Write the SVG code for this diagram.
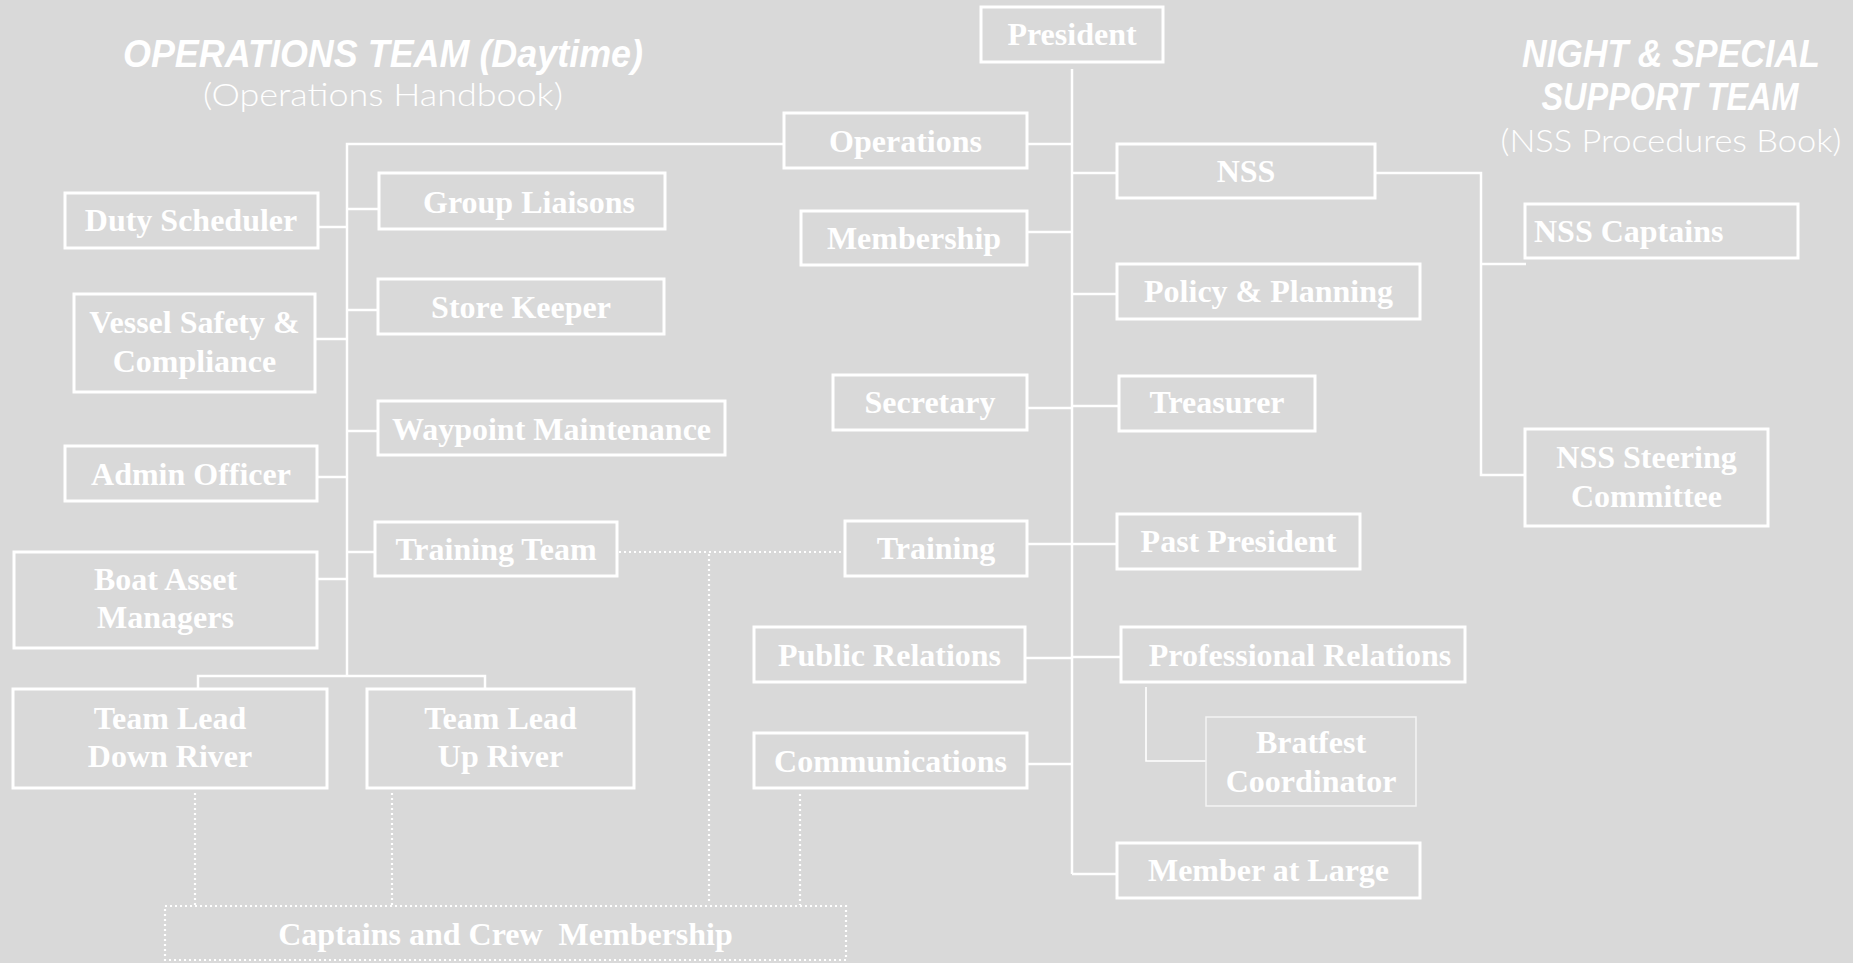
<svg xmlns="http://www.w3.org/2000/svg" width="1853" height="963" viewBox="0 0 1853 963">
<style>
.bg{fill:#d9d9d9}
.box{fill:none;stroke:#ffffff;stroke-width:3}
.thin{fill:none;stroke:#f4f4f4;stroke-width:1.5}
.lbl{font-family:"Liberation Serif","Times New Roman",serif;font-weight:bold;font-size:32px;fill:#ffffff;text-anchor:middle}
.ln{fill:none;stroke:#ffffff;stroke-width:2.5}
.ln1{fill:none;stroke:#ffffff;stroke-width:1.6}
.dot{fill:none;stroke:#ffffff;stroke-width:2.2;stroke-dasharray:2 3}
.ttl{font-family:"Liberation Sans",Arial,sans-serif;font-style:italic;font-weight:bold;font-size:38px;fill:#ffffff;text-anchor:middle}
.sub{font-family:"Lato","Open Sans",sans-serif;font-weight:300;font-size:32px;fill:#ffffff;text-anchor:middle}
</style>
<rect class="bg" x="0" y="0" width="1853" height="963"/>

<g id="titles">
<text class="ttl" x="383" y="67" textLength="520" lengthAdjust="spacingAndGlyphs">OPERATIONS TEAM (Daytime)</text>
<text class="sub" x="383" y="106" textLength="360" lengthAdjust="spacingAndGlyphs">(Operations Handbook)</text>
<text class="ttl" x="1671" y="67" textLength="298" lengthAdjust="spacingAndGlyphs">NIGHT &amp; SPECIAL</text>
<text class="ttl" x="1670" y="110" textLength="257" lengthAdjust="spacingAndGlyphs">SUPPORT TEAM</text>
<text class="sub" x="1671" y="152" textLength="341" lengthAdjust="spacingAndGlyphs">(NSS Procedures Book)</text>
</g>

<g id="connectors">
<line class="ln" x1="1072" y1="69" x2="1072" y2="874"/>
<polyline class="ln" points="784,144 347,144 347,676"/>
<polyline class="ln" points="198,689 198,676 485,676 485,689"/>
<line class="ln" x1="318" y1="227" x2="347" y2="227"/>
<line class="ln" x1="315" y1="339" x2="347" y2="339"/>
<line class="ln" x1="317" y1="477" x2="347" y2="477"/>
<line class="ln" x1="317" y1="579" x2="347" y2="579"/>
<line class="ln" x1="347" y1="209" x2="379" y2="209"/>
<line class="ln" x1="347" y1="310" x2="378" y2="310"/>
<line class="ln" x1="347" y1="431" x2="378" y2="431"/>
<line class="ln" x1="347" y1="552" x2="375" y2="552"/>
<line class="ln" x1="1027" y1="144" x2="1072" y2="144"/>
<line class="ln" x1="1027" y1="232" x2="1072" y2="232"/>
<line class="ln" x1="1027" y1="408" x2="1072" y2="408"/>
<line class="ln" x1="1027" y1="544" x2="1072" y2="544"/>
<line class="ln" x1="1025" y1="658" x2="1072" y2="658"/>
<line class="ln" x1="1027" y1="764" x2="1072" y2="764"/>
<line class="ln" x1="1072" y1="173" x2="1117" y2="173"/>
<line class="ln" x1="1072" y1="294" x2="1117" y2="294"/>
<line class="ln" x1="1072" y1="406" x2="1119" y2="406"/>
<line class="ln" x1="1072" y1="544" x2="1117" y2="544"/>
<line class="ln" x1="1072" y1="657" x2="1121" y2="657"/>
<line class="ln" x1="1072" y1="874" x2="1117" y2="874"/>
<polyline class="ln" points="1375,173 1481,173 1481,475 1525,475"/>
<line class="ln" x1="1481" y1="264" x2="1526" y2="264"/>
<polyline class="ln1" points="1146,687 1146,761 1206,761"/>
<line class="dot" x1="619" y1="552" x2="845" y2="552"/>
<line class="dot" x1="709" y1="554" x2="709" y2="904"/>
<line class="dot" x1="195" y1="793" x2="195" y2="905"/>
<line class="dot" x1="392" y1="793" x2="392" y2="905"/>
<line class="dot" x1="800" y1="794" x2="800" y2="905"/>
</g>

<g id="president"><rect class="box" x="981" y="7" width="182" height="55"/><text class="lbl" x="1072" y="45">President</text></g>
<g id="operations"><rect class="box" x="784" y="113" width="243" height="55"/><text class="lbl" x="905.5" y="152">Operations</text></g>
<g id="membership"><rect class="box" x="801" y="211" width="226" height="54"/><text class="lbl" x="914" y="249">Membership</text></g>
<g id="secretary"><rect class="box" x="833" y="375" width="194" height="55"/><text class="lbl" x="930" y="413">Secretary</text></g>
<g id="training"><rect class="box" x="845" y="521" width="182" height="55"/><text class="lbl" x="936" y="559">Training</text></g>
<g id="public-relations"><rect class="box" x="754" y="627" width="271" height="55"/><text class="lbl" x="889.5" y="666">Public Relations</text></g>
<g id="communications"><rect class="box" x="754" y="733" width="273" height="55"/><text class="lbl" x="890.5" y="772">Communications</text></g>

<g id="nss"><rect class="box" x="1117" y="144" width="258" height="54"/><text class="lbl" x="1246" y="182">NSS</text></g>
<g id="policy-planning"><rect class="box" x="1117" y="264" width="303" height="55"/><text class="lbl" x="1268.5" y="302">Policy &amp; Planning</text></g>
<g id="treasurer"><rect class="box" x="1119" y="376" width="196" height="55"/><text class="lbl" x="1217" y="413">Treasurer</text></g>
<g id="past-president"><rect class="box" x="1117" y="514" width="243" height="55"/><text class="lbl" x="1238.5" y="552">Past President</text></g>
<g id="professional-relations"><rect class="box" x="1121" y="627" width="344" height="55"/><text class="lbl" x="1300" y="666">Professional Relations</text></g>
<g id="bratfest"><rect class="thin" x="1206" y="717" width="210" height="89"/><text class="lbl" x="1311" y="753">Bratfest</text><text class="lbl" x="1311" y="792">Coordinator</text></g>
<g id="member-at-large"><rect class="box" x="1117" y="843" width="303" height="55"/><text class="lbl" x="1268.5" y="881">Member at Large</text></g>

<g id="nss-captains"><rect class="box" x="1525" y="204" width="273" height="54"/><text class="lbl" x="1534" y="242" style="text-anchor:start">NSS Captains</text></g>
<g id="nss-steering"><rect class="box" x="1525" y="429" width="243" height="97"/><text class="lbl" x="1646.5" y="468">NSS Steering</text><text class="lbl" x="1646.5" y="507">Committee</text></g>

<g id="duty-scheduler"><rect class="box" x="65" y="193" width="253" height="55"/><text class="lbl" x="191" y="231">Duty Scheduler</text></g>
<g id="vessel-safety"><rect class="box" x="74" y="294" width="241" height="98"/><text class="lbl" x="194.5" y="333">Vessel Safety &amp;</text><text class="lbl" x="194.5" y="372">Compliance</text></g>
<g id="admin-officer"><rect class="box" x="65" y="446" width="252" height="55"/><text class="lbl" x="191" y="485">Admin Officer</text></g>
<g id="boat-asset-managers"><rect class="box" x="14" y="552" width="303" height="96"/><text class="lbl" x="165.5" y="590">Boat Asset</text><text class="lbl" x="165.5" y="628">Managers</text></g>
<g id="group-liaisons"><rect class="box" x="379" y="173" width="286" height="56"/><text class="lbl" x="529" y="213">Group Liaisons</text></g>
<g id="store-keeper"><rect class="box" x="378" y="279" width="286" height="55"/><text class="lbl" x="521" y="318">Store Keeper</text></g>
<g id="waypoint-maintenance"><rect class="box" x="378" y="401" width="347" height="54"/><text class="lbl" x="551.5" y="440">Waypoint Maintenance</text></g>
<g id="training-team"><rect class="box" x="375" y="522" width="242" height="54"/><text class="lbl" x="496" y="560">Training Team</text></g>
<g id="team-lead-down"><rect class="box" x="13" y="689" width="314" height="99"/><text class="lbl" x="170" y="729">Team Lead</text><text class="lbl" x="170" y="767">Down River</text></g>
<g id="team-lead-up"><rect class="box" x="367" y="689" width="267" height="99"/><text class="lbl" x="500.5" y="729">Team Lead</text><text class="lbl" x="500.5" y="767">Up River</text></g>
<g id="captains-crew"><rect class="dot" x="165" y="906" width="681" height="54"/><text class="lbl" x="505.5" y="945" xml:space="preserve">Captains and Crew  Membership</text></g>
</svg>
